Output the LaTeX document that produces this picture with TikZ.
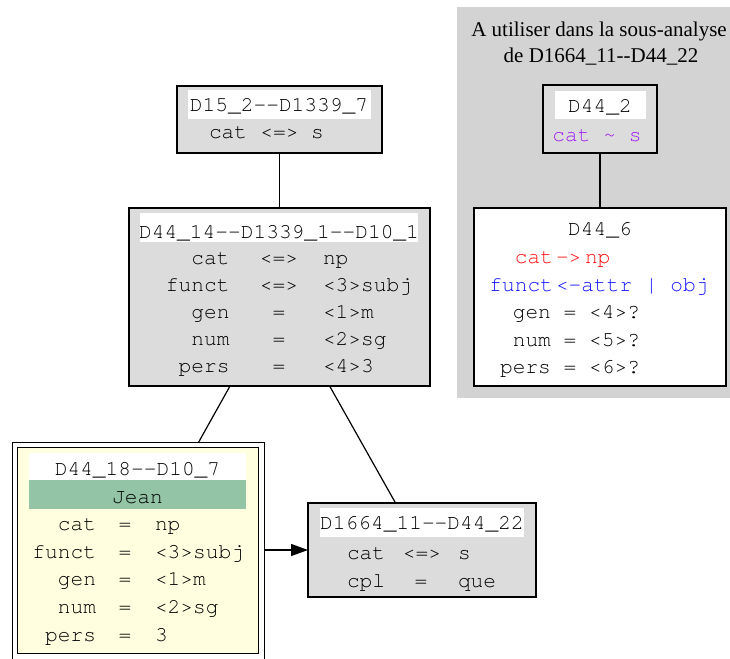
\documentclass[tikz,border=0pt]{standalone}
\usepackage{fontspec}
\setmainfont{Liberation Serif}
\newfontfamily\monof{texgyrecursor-regular.otf}
\usetikzlibrary{arrows.meta}
\definecolor{gbox}{HTML}{DCDCDC}
\definecolor{gclus}{HTML}{D3D3D3}
\definecolor{lyel}{HTML}{FFFFE0}
\definecolor{sgreen}{HTML}{93C4A5}
\definecolor{tpurple}{HTML}{A020F0}
\definecolor{tred}{HTML}{FF1010}
\definecolor{tblue}{HTML}{1515FF}
\newcommand\dd{-\kern0pt-}
\begin{document}
\begin{tikzpicture}[x=1pt,y=-1pt,
  box/.style={draw=black, line width=1.1pt, fill=gbox, inner sep=0pt, outer sep=0pt},
  band/.style={fill=white, draw=none, inner sep=0pt, outer sep=0pt},
  tt/.style={font=\monof\fontsize{21.2}{25}\selectfont, inner sep=0pt, outer sep=0pt, text=black},
  serif/.style={font=\fontsize{21}{26}\selectfont, inner sep=0pt, anchor=base, text=black},
  edge/.style={draw=black, line width=1.2pt}]
\useasboundingbox (0,0) rectangle (730,658);

% cluster
\node[fill=gclus, draw=none, inner sep=0pt, minimum width=283pt, minimum height=391pt] (clus) at (598.5,202.5) {};
\node[serif] (ct1) at (599,36.7) {A utiliser dans la sous-analyse};
\node[serif] (ct2) at (601,62.7) {de D1664\_11\dd D44\_22};

% boxes
\node[box, minimum width=205pt, minimum height=67pt] (d15) at (279.5,119.5) {};
\node[box, minimum width=301pt, minimum height=178pt] (d44a) at (279.5,297) {};
\node[box, minimum width=228pt, minimum height=94pt] (d1664) at (422,550) {};
\node[box, minimum width=114pt, minimum height=68pt] (d442) at (600,119) {};
\node[box, fill=white, minimum width=252pt, minimum height=178pt] (d446) at (600,297) {};
\node[box, fill=white, line width=1pt, minimum width=252pt, minimum height=218pt] (jean) at (138,551) {};
\node[box, fill=lyel, line width=1pt, minimum width=241pt, minimum height=206pt] (jeanin) at (137.5,550) {};

% bands
\node[band, minimum width=183pt, minimum height=29pt] (b15) at (279.5,104.5) {};
\node[band, minimum width=278pt, minimum height=29pt] (b44a) at (279,227.5) {};
\node[band, minimum width=204pt, minimum height=29pt] (b1664) at (422,522.5) {};
\node[band, minimum width=91pt, minimum height=28pt] (b442) at (600.5,105) {};
\node[band, minimum width=217pt, minimum height=27pt] (bj1) at (137.5,466.5) {};
\node[band, fill=sgreen, minimum width=217pt, minimum height=29pt] (bj2) at (137.5,494.5) {};

% edges
\draw[edge] (d15) -- (d44a);
\draw[edge] (d44a) -- (jean);
\draw[edge] (d44a) -- (d1664);
\draw[edge, -{Triangle[length=17pt, width=12pt]}] (jean.east |- d1664.west) -- (d1664.west);
\draw[edge] (d442) -- (d446);

% D15_2
\node[tt, anchor=base] (t15) at (279,112) {D15\_2\dd D1339\_7};
\node[tt, anchor=base west] (t15a) at (209,139) {cat};
\node[tt, anchor=base] (t15b) at (279.5,139) {<=>};
\node[tt, anchor=base west] (t15c) at (311,139) {s};

% D44_14
\node[tt, anchor=base] (t44) at (279,238) {D44\_14\dd D1339\_1\dd D10\_1};
\foreach \n/\o/\v/\y [count=\i] in {cat/{<=>}/np/264, funct/{<=>}/{<3>subj}/291, gen/=/{<1>m}/318, num/=/{<2>sg}/345, pers/=/{<4>3}/372}{
  \node[tt, anchor=base east] (t44n\i) at (229.5,\y) {\n};
  \node[tt, anchor=base] (t44o\i) at (279,\y) {\o};
  \node[tt, anchor=base west] (t44v\i) at (323,\y) {\v};
}

% D1664
\node[tt, anchor=base] (t16) at (422,529) {D1664\_11\dd D44\_22};
\node[tt, anchor=base west] (t16a) at (347,559) {cat};
\node[tt, anchor=base] (t16b) at (422,559) {<=>};
\node[tt, anchor=base west] (t16c) at (458,559) {s};
\node[tt, anchor=base west] (t16d) at (347,587) {cpl};
\node[tt, anchor=base] (t16e) at (421,587) {=};
\node[tt, anchor=base west] (t16f) at (458,587) {que};

% D44_2
\node[tt, anchor=base] (t42) at (600,113) {D44\_2};
\node[tt, anchor=base, text=tpurple] (t42a) at (597,141) {cat \textasciitilde{} s};

% D44_6
\node[tt, anchor=base] (t46) at (600,235) {D44\_6};
\node[tt, anchor=base east, text=tred] (t46a) at (553,263) {cat};
\node[tt, anchor=base west, text=tred] (t46b) at (556,263) {->};
\node[tt, anchor=base west, text=tred] (t46c) at (585,263) {np};
\node[tt, anchor=base east, text=tblue] (t46d) at (553,291) {funct};
\node[tt, anchor=base west, text=tblue] (t46e) at (556,291) {<-attr | obj};
\node[tt, anchor=base east] (t46f) at (640,318) {gen = <4>?};
\node[tt, anchor=base east] (t46g) at (640,346) {num = <5>?};
\node[tt, anchor=base east] (t46h) at (640,373) {pers = <6>?};

% Jean
\node[tt, anchor=base] (tj) at (137.5,475) {D44\_18\dd D10\_7};
\node[tt, anchor=base] (tj0) at (137.5,503) {Jean};
\foreach \n/\v/\y [count=\i] in {cat/np/530, funct/{<3>subj}/558, gen/{<1>m}/585, num/{<2>sg}/613, pers/3/641}{
  \node[tt, anchor=base east] (tjn\i) at (96,\y) {\n};
  \node[tt, anchor=base] (tjo\i) at (125,\y) {=};
  \node[tt, anchor=base west] (tjv\i) at (155,\y) {\v};
}
\end{tikzpicture}
\end{document}
